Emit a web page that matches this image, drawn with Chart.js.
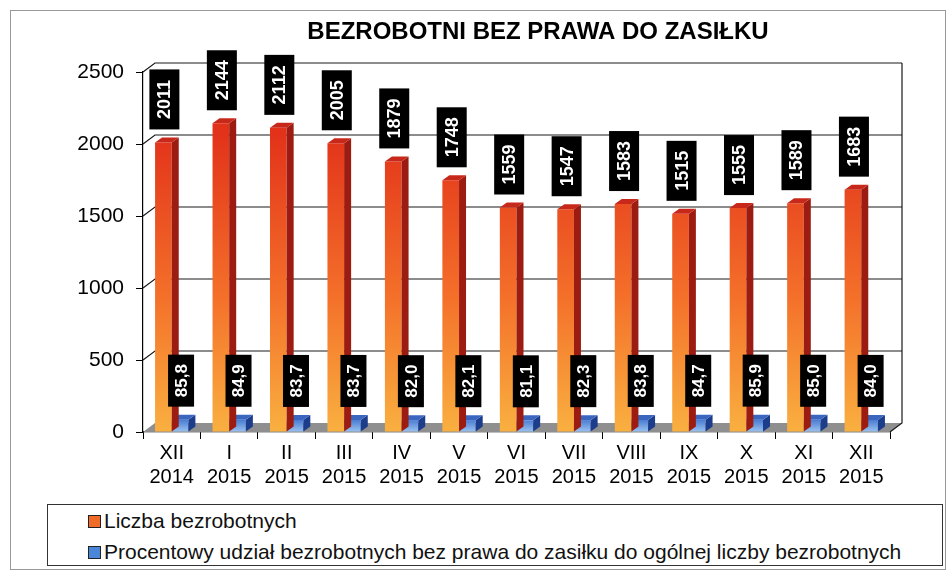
<!DOCTYPE html>
<html lang="pl">
<head>
<meta charset="utf-8">
<title>Bezrobotni bez prawa do zasiłku</title>
<script src="https://cdn.jsdelivr.net/npm/chart.js@4.4.1/dist/chart.umd.min.js"></script>
<style>
    body { margin: 0; background: #fff; font-family: "Liberation Sans", Arial, sans-serif; }
    #wrap { position: relative; width: 950px; height: 573px; overflow: hidden; }
    #ramka { position: absolute; left: 10px; top: 10px; width: 934px; height: 558px; border: 1px solid #999; }
    #wykres { position: absolute; left: 0; top: 0; }
    #legenda { position: absolute; left: 47px; top: 504px; width: 896px; height: 62px; border: 1px solid #333; box-sizing: border-box; }
    .poz { position: absolute; left: 40px; font-size: 21px; line-height: 24px; color: #111; white-space: nowrap; }
    .kw { display: inline-block; width: 11px; height: 11px; border: 1px solid #222; margin-right: 3px; vertical-align: 0px; }
</style>
</head>
<body>
<div id="wrap">
    <div id="ramka"></div>
    <canvas id="wykres" width="950" height="495"></canvas>
    <div id="legenda">
        <div class="poz" style="top:4px"><span class="kw" style="background:#f06a28"></span>Liczba bezrobotnych</div>
        <div class="poz" style="top:35px"><span class="kw" style="background:#4a86d8"></span>Procentowy udział bezrobotnych bez prawa do zasiłku do ogólnej liczby bezrobotnych</div>
    </div>
</div>

<script>
const TYTUL = "BEZROBOTNI BEZ PRAWA DO ZASIŁKU"

const miesiace = [
    ["XII", "2014"], ["I", "2015"], ["II", "2015"], ["III", "2015"], ["IV", "2015"],
    ["V", "2015"], ["VI", "2015"], ["VII", "2015"], ["VIII", "2015"], ["IX", "2015"],
    ["X", "2015"], ["XI", "2015"], ["XII", "2015"]
]

const liczbaBezrobotnych = [2011, 2144, 2112, 2005, 1879, 1748, 1559, 1547, 1583, 1515, 1555, 1589, 1683]
const udzialProcentowy = [85.8, 84.9, 83.7, 83.7, 82.0, 82.1, 81.1, 82.3, 83.8, 84.7, 85.9, 85.0, 84.0]

const osY = { min: 0, max: 2500, krok: 500 }

// przesuniecia dla efektu 3D
const DX = 7, DY = -5
const SCIANA_DX = 12, SCIANA_DY = -9

const boki = ["#9c1c12", "#1c3c8c"]
const gory = ["#c8281a", "#3a66c0"]

Chart.defaults.font.family = '"Liberation Sans", Arial, sans-serif'
Chart.defaults.color = "#000"

const gradientPomaranczowy = (context) => {

    const { chart } = context
    const area = chart.chartArea
    if (!area) return "#f06a28"

    const g = chart.ctx.createLinearGradient(0, area.bottom, 0, area.top + 60)
    g.addColorStop(0, "#f9b040")
    g.addColorStop(0.45, "#f4702a")
    g.addColorStop(1, "#e2321a")
    return g
}

const gradientNiebieski = (context) => {

    const { chart } = context
    const area = chart.chartArea
    if (!area) return "#4a86d8"

    const g = chart.ctx.createLinearGradient(0, area.bottom, 0, area.bottom - 16)
    g.addColorStop(0, "#9cc4f0")
    g.addColorStop(1, "#2e64c8")
    return g
}

/* --- tylna sciana, podloga i linie siatki --- */
const scianaPlugin = {
    id: "sciana",
    beforeDatasetsDraw(chart) {

        const ctx = chart.ctx
        const { left, right, bottom } = chart.chartArea
        const y = chart.scales.y

        ctx.save()

        // podloga
        ctx.fillStyle = "#8f8f8f"
        ctx.beginPath()
        ctx.moveTo(left, bottom)
        ctx.lineTo(right, bottom)
        ctx.lineTo(right + SCIANA_DX, bottom + SCIANA_DY)
        ctx.lineTo(left + SCIANA_DX, bottom + SCIANA_DY)
        ctx.closePath()
        ctx.fill()

        ctx.strokeStyle = "#1a1a1a"
        ctx.lineWidth = 1.2

        for (let v = osY.min + osY.krok; v <= osY.max; v += osY.krok) {

            const py = y.getPixelForValue(v)
            ctx.beginPath()
            ctx.moveTo(left, py)
            ctx.lineTo(left + SCIANA_DX, py + SCIANA_DY)
            ctx.lineTo(right + SCIANA_DX, py + SCIANA_DY)
            ctx.stroke()
        }

        const gora = y.getPixelForValue(osY.max) + SCIANA_DY

        ctx.beginPath()
        ctx.moveTo(right + SCIANA_DX, gora)
        ctx.lineTo(right + SCIANA_DX, bottom + SCIANA_DY)
        ctx.lineTo(right, bottom)
        ctx.stroke()

        ctx.restore()
    },

    // boki i gory slupkow, po kazdym zbiorze
    afterDatasetDraw(chart, args) {

        const ctx = chart.ctx
        const meta = chart.getDatasetMeta(args.index)

        ctx.save()

        meta.data.forEach(bar => {

            const { x, y, base, width } = bar.getProps(["x", "y", "base", "width"], true)
            const l = x - width / 2
            const r = x + width / 2

            ctx.fillStyle = boki[args.index]
            ctx.beginPath()
            ctx.moveTo(r, y)
            ctx.lineTo(r + DX, y + DY)
            ctx.lineTo(r + DX, base + DY)
            ctx.lineTo(r, base)
            ctx.closePath()
            ctx.fill()

            ctx.fillStyle = gory[args.index]
            ctx.beginPath()
            ctx.moveTo(l, y)
            ctx.lineTo(l + DX, y + DY)
            ctx.lineTo(r + DX, y + DY)
            ctx.lineTo(r, y)
            ctx.closePath()
            ctx.fill()
        })

        ctx.restore()
    }
}

/* --- etykiety w czarnych ramkach, pionowo --- */
const etykietyPlugin = {
    id: "etykiety",
    afterDatasetsDraw(chart) {

        const ctx = chart.ctx
        const rozmiary = [
            { w: 30, h: 60, font: "bold 18px 'Liberation Sans', Arial, sans-serif", fmt: v => String(v) },
            { w: 26, h: 52, font: "bold 17px 'Liberation Sans', Arial, sans-serif", fmt: v => v.toFixed(1).replace(".", ",") }
        ]

        ctx.save()

        chart.data.datasets.forEach((ds, i) => {

            const meta = chart.getDatasetMeta(i)
            const r = rozmiary[i]

            meta.data.forEach((bar, j) => {

                const cx = bar.x + 1
                const dol = bar.y - 13

                ctx.fillStyle = "#000"
                ctx.fillRect(cx - r.w / 2, dol - r.h, r.w, r.h)

                ctx.save()
                ctx.translate(cx, dol - r.h / 2)
                ctx.rotate(-Math.PI / 2)
                ctx.fillStyle = "#fff"
                ctx.font = r.font
                ctx.textAlign = "center"
                ctx.textBaseline = "middle"
                ctx.fillText(r.fmt(ds.data[j]), 0, 1)
                ctx.restore()
            })
        })

        ctx.restore()
    },

    afterDraw(chart) {

        const ctx = chart.ctx
        ctx.save()
        ctx.fillStyle = "#000"
        ctx.font = "bold 24px 'Liberation Sans', Arial, sans-serif"
        ctx.textAlign = "center"
        ctx.textBaseline = "middle"
        ctx.fillText(TYTUL, 538, 32)
        ctx.restore()
    }
}

new Chart(document.getElementById("wykres"), {
    type: "bar",
    data: {
        labels: miesiace,
        datasets: [
            {
                label: "Liczba bezrobotnych",
                data: liczbaBezrobotnych,
                backgroundColor: gradientPomaranczowy,
                barPercentage: 1,
                categoryPercentage: 0.58
            },
            {
                label: "Procentowy udział bezrobotnych bez prawa do zasiłku do ogólnej liczby bezrobotnych",
                data: udzialProcentowy,
                backgroundColor: gradientNiebieski,
                barPercentage: 1,
                categoryPercentage: 0.58
            }
        ]
    },
    options: {
        responsive: false,
        animation: false,
        layout: { padding: { top: 72, right: 60, left: 0, bottom: 0 } },
        plugins: {
            legend: { display: false },
            tooltip: { enabled: false },
            title: { display: false }
        },
        scales: {
            x: {
                grid: { offset: true, drawOnChartArea: false, tickLength: 7, color: "#000" },
                border: { color: "#000", width: 1.2 },
                ticks: { font: { size: 20 }, padding: 2, maxRotation: 0, autoSkip: false },
                afterFit: s => { s.height = 63 }
            },
            y: {
                min: osY.min,
                max: osY.max,
                ticks: { stepSize: osY.krok, font: { size: 21 }, padding: 12, callback: v => String(v) },
                grid: { drawOnChartArea: false, tickLength: 7, color: "#000" },
                border: { color: "#000", width: 1.2 },
                afterFit: s => { s.width = 143 }
            }
        }
    },
    plugins: [scianaPlugin, etykietyPlugin]
})
</script>
</body>
</html>
